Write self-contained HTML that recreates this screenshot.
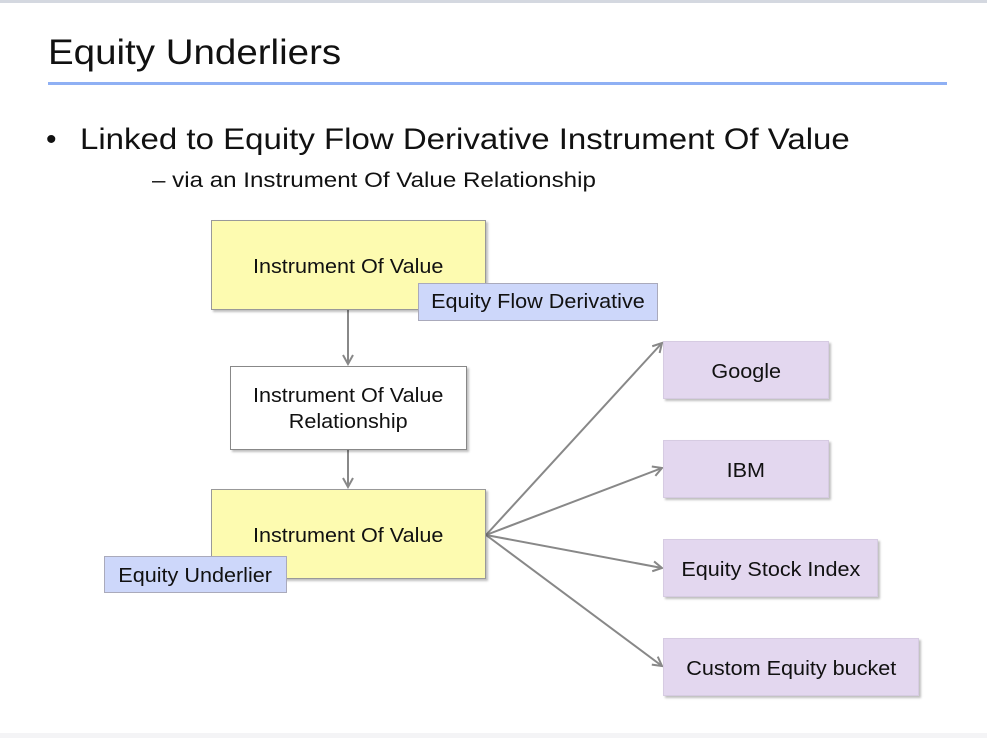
<!DOCTYPE html>
<html><head><style>
body{margin:0;width:987px;height:738px;background:#fff;position:relative;overflow:hidden;font-family:"Liberation Sans",Arial,sans-serif;color:#111}
.a{position:absolute;transform-origin:0 0}
.box{position:absolute;display:flex;align-items:center;justify-content:center;text-align:center;font-size:20px;box-sizing:border-box;box-shadow:2px 2px 2px rgba(0,0,0,.25);padding-top:5px}
.box span{display:inline-block;transform:scaleX(1.08)}
.y{background:#fdfbb0;border:1px solid #999}
.w{background:#fff;border:1px solid #888;line-height:26px}
.p{background:#e3d7ef;border:1px solid #d6cbe2}
.l{background:#cdd7fa;border:1px solid #aab;box-shadow:none}
</style></head><body>
<div class="a" style="left:0;top:0;width:987px;height:3px;background:#d4d8e0"></div>
<div class="a" style="left:0;top:733px;width:987px;height:5px;background:#f4f4f6"></div>
<div class="a" style="left:48px;top:33px;font-size:35px;transform:scaleX(1.1)">Equity Underliers</div>
<div class="a" style="left:48px;top:82px;width:899px;height:3px;background:#8fb0f4"></div>
<div class="a" style="left:46px;top:123px;font-size:30px">•</div>
<div class="a" style="left:80px;top:123px;font-size:30px;transform:scaleX(1.1)">Linked to Equity Flow Derivative Instrument Of Value</div>
<div class="a" style="left:152px;top:169px;font-size:21px;transform:scaleX(1.15)">– via an Instrument Of Value Relationship</div>
<svg class="a" style="left:0;top:0" width="987" height="738">
<defs><marker id="m" markerWidth="12" markerHeight="12" refX="10" refY="6" orient="auto" markerUnits="userSpaceOnUse"><path d="M1,1 L10,6 L1,11" fill="none" stroke="#888" stroke-width="2"/></marker></defs>
<g stroke="#888" stroke-width="2" fill="none">
<line x1="348" y1="310" x2="348" y2="364" marker-end="url(#m)"/>
<line x1="348" y1="450" x2="348" y2="487" marker-end="url(#m)"/>
<line x1="486" y1="535" x2="662" y2="343" marker-end="url(#m)"/>
<line x1="486" y1="535" x2="662" y2="468" marker-end="url(#m)"/>
<line x1="486" y1="535" x2="662" y2="568" marker-end="url(#m)"/>
<line x1="486" y1="535" x2="662" y2="666" marker-end="url(#m)"/>
</g></svg>
<div class="box y" style="left:211px;top:220px;width:275px;height:90px"><span>Instrument Of Value</span></div>
<div class="box l" style="left:418px;top:283px;width:240px;height:38px;padding-top:1px"><span>Equity Flow Derivative</span></div>
<div class="box w" style="left:230px;top:366px;width:237px;height:84px;padding-top:2px"><span>Instrument Of Value<br>Relationship</span></div>
<div class="box y" style="left:211px;top:489px;width:275px;height:90px"><span>Instrument Of Value</span></div>
<div class="box l" style="left:104px;top:556px;width:183px;height:37px;padding-top:3px"><span>Equity Underlier</span></div>
<div class="box p" style="left:663px;top:341px;width:166px;height:58px"><span>Google</span></div>
<div class="box p" style="left:663px;top:440px;width:166px;height:58px"><span>IBM</span></div>
<div class="box p" style="left:663px;top:539px;width:215px;height:58px"><span>Equity Stock Index</span></div>
<div class="box p" style="left:663px;top:638px;width:256px;height:58px"><span>Custom Equity bucket</span></div>
</body></html>
